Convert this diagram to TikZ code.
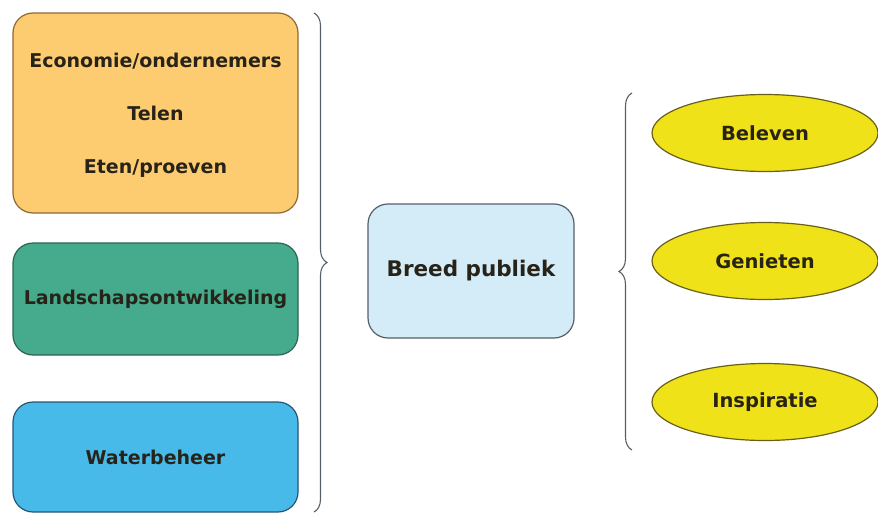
\documentclass[tikz,border=0pt]{standalone}
\usepackage{fontspec}
\setmainfont{DejaVu Sans}
\usetikzlibrary{shapes.geometric,decorations.pathreplacing}
\definecolor{oranjefill}{RGB}{253,204,112}
\definecolor{oranjedraw}{RGB}{140,105,55}
\definecolor{groenfill}{RGB}{70,170,140}
\definecolor{groendraw}{RGB}{45,100,85}
\definecolor{blauwfill}{RGB}{72,186,234}
\definecolor{blauwdraw}{RGB}{40,85,115}
\definecolor{lichtfill}{RGB}{212,235,248}
\definecolor{lichtdraw}{RGB}{85,95,105}
\definecolor{geelfill}{RGB}{240,226,24}
\definecolor{geeldraw}{RGB}{105,95,25}
\definecolor{tekst}{RGB}{40,35,25}
\tikzset{
    blok/.style={rounded corners=20pt, line width=1.2pt, minimum width=285pt, align=center, text=tekst, font=\bfseries\fontsize{19}{22}\selectfont},
    doel/.style={ellipse, fill=geelfill, draw=geeldraw, line width=1.2pt, minimum width=226pt, minimum height=77pt, text=tekst, font=\bfseries\fontsize{19.5}{22}\selectfont},
    accolade/.style={decorate, decoration={brace, amplitude=13pt}, draw=lichtdraw, line width=1.1pt}
}
\begin{document}
\begin{tikzpicture}[x=1pt, y=1pt]
    \useasboundingbox (0,0) rectangle (878,-514);
    \node[blok, fill=oranjefill, draw=oranjedraw, minimum height=200pt, text depth=0pt] (eco) at (155.5,-113) {Economie/ondernemers\\[31pt]Telen\\[31pt]Eten/proeven};
    \node[blok, fill=groenfill, draw=groendraw, minimum height=112pt] (land) at (155.5,-299) {Landschapsontwikkeling};
    \node[blok, fill=blauwfill, draw=blauwdraw, minimum height=110pt] (water) at (155.5,-457) {Waterbeheer};
    \node[blok, fill=lichtfill, draw=lichtdraw, minimum width=206pt, minimum height=134pt, font=\bfseries\fontsize{21.5}{24}\selectfont] (publiek) at (471,-271) {Breed publiek};
    \node[doel] (beleven) at (765,-133) {Beleven};
    \node[doel] (genieten) at (765,-261) {Genieten};
    \node[doel] (inspiratie) at (765,-402) {Inspiratie};
    \coordinate (lboven) at (314,-13);
    \coordinate (londer) at (314,-512);
    \coordinate (rboven) at (632,-93);
    \coordinate (ronder) at (632,-450);
    \draw[accolade] (lboven) -- (londer);
    \draw[accolade] (ronder) -- (rboven);
\end{tikzpicture}
\end{document}
